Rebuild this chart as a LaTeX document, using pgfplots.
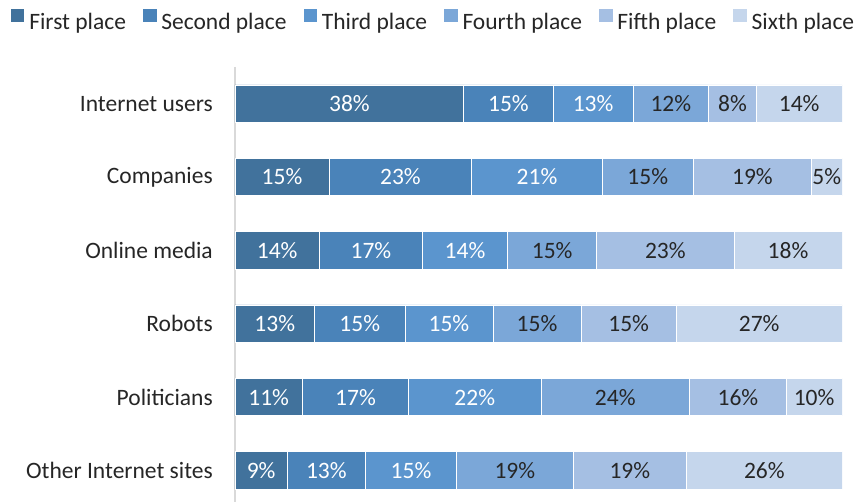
\documentclass[border=0pt]{standalone}
\usepackage{pgfplots}
\pgfplotsset{compat=1.18}
\usepackage{pgfplotstable}
\usepackage{fontspec}
\setmainfont{Carlito}

\definecolor{c1}{HTML}{41729C}
\definecolor{c2}{HTML}{4A83B9}
\definecolor{c3}{HTML}{5B95CE}
\definecolor{c4}{HTML}{7BA7D8}
\definecolor{c5}{HTML}{A5BFE3}
\definecolor{c6}{HTML}{C5D6EC}
\definecolor{txt}{HTML}{262626}
\definecolor{axgray}{HTML}{D9D9D9}

\pgfplotstableread{
y s1 s2 s3 s4 s5 s6
0 37.7 14.7 13.2 12.4 7.9 14.1
1 15.5 23.5 21.5 15.0 19.5 5.0
2 13.9 17.0 14.0 14.7 22.6 17.8
3 13.1 14.9 14.5 14.5 15.7 27.3
4 11.1 17.5 21.8 24.5 15.9 9.2
5 8.6 12.9 15.0 19.2 18.7 25.6
}\bars

\pgfplotstableread{
x y label
18.85 0 38
45.05 0 15
59.0 0 13
7.75 1 15
27.25 1 23
49.75 1 21
6.95 2 14
22.4 2 17
37.9 2 14
6.55 3 13
20.55 3 15
35.25 3 15
5.55 4 11
19.85 4 17
39.5 4 22
4.3 5 9
15.05 5 13
29.0 5 15
}\whitelabels

\pgfplotstableread{
x y label
71.8 0 12
81.95 0 8
92.95 0 14
68 1 15
85.25 1 19
97.5 1 5
52.25 2 15
70.9 2 23
91.1 2 18
49.75 3 15
64.85 3 15
86.35 3 27
62.65 4 24
82.85 4 16
95.4 4 10
46.1 5 19
65.05 5 19
87.2 5 26
}\darklabels

\newcommand\bigfont{\fontsize{23.5}{28}\selectfont}

\pgfplotsset{
  common/.style={
    at={(235pt,0pt)}, anchor=south west,
    scale only axis, width=607pt, height=435pt,
    xmin=0, xmax=100, ymin=-0.5, ymax=5.43,
    y dir=reverse,
  },
}

\begin{document}
\begin{tikzpicture}
\useasboundingbox (0pt,0pt) rectangle (857pt,502pt);
\begin{axis}[common,
  xbar stacked, bar width=37.5pt,
  axis x line=none, axis y line=left,
  axis line style={-, draw=axgray, line width=1.5pt},
  ytick={0,1,2,3,4,5},
  yticklabels={Internet users, Companies, Online media, Robots, Politicians, Other Internet sites},
  major tick length=0pt, ytick style={draw=none},
  yticklabel style={font=\bigfont, text=txt, inner sep=0pt, anchor=east, xshift=-22pt},
  legend columns=-1,
  legend image code/.code={\fill[#1] (0pt,-1pt) rectangle (14.5pt,13pt);},
  legend style={at={(axis description cs:-0.3707,1.1095)}, anchor=west, draw=none, fill=none, font=\bigfont, text=txt,
    inner sep=0pt, outer sep=0pt, nodes={inner sep=0pt},
    /tikz/every odd column/.append style={column sep=4pt},
    /tikz/every even column/.append style={column sep=16pt}},
  every axis plot/.append style={draw=white, line width=0.8pt},
]
\addplot[fill=c1] table[x=s1,y=y] {\bars};
\addplot[fill=c2] table[x=s2,y=y] {\bars};
\addplot[fill=c3] table[x=s3,y=y] {\bars};
\addplot[fill=c4] table[x=s4,y=y] {\bars};
\addplot[fill=c5] table[x=s5,y=y] {\bars};
\addplot[fill=c6] table[x=s6,y=y] {\bars};
\legend{First place, Second place, Third place, Fourth place, Fifth place, Sixth place}
\end{axis}
\begin{axis}[common, hide axis, clip=false]
\addplot[draw=none, mark=none, nodes near coords={\pgfplotspointmeta\%}, point meta=explicit symbolic,
  every node near coord/.append style={anchor=center, font=\bigfont, text=white, inner sep=0pt}]
  table[x=x,y=y,meta=label] {\whitelabels};
\addplot[draw=none, mark=none, nodes near coords={\pgfplotspointmeta\%}, point meta=explicit symbolic,
  every node near coord/.append style={anchor=center, font=\bigfont, text=txt, inner sep=0pt}]
  table[x=x,y=y,meta=label] {\darklabels};
\end{axis}
\end{tikzpicture}
\end{document}
